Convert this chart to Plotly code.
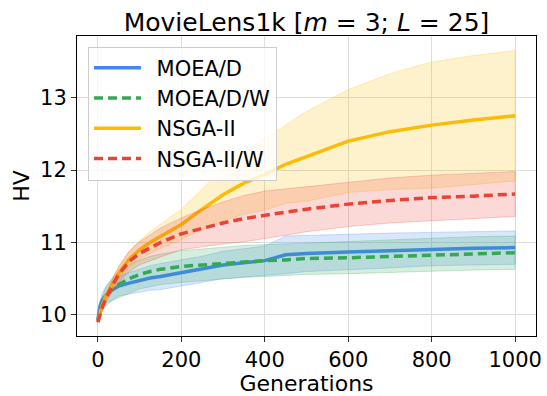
import plotly.graph_objects as go

# Generation checkpoints at which the hypervolume statistics were recorded
generations = [0, 5, 10, 20, 30, 40, 50, 75, 100, 125, 150, 200, 250, 300,
               350, 400, 450, 500, 600, 700, 800, 900, 1000]

# Mean hypervolume per algorithm
moead_mean = [9.93, 10.12, 10.20, 10.28, 10.33, 10.37, 10.40, 10.44, 10.48, 10.51,
              10.53, 10.58, 10.63, 10.69, 10.72, 10.75, 10.83, 10.85, 10.87, 10.89,
              10.91, 10.92, 10.93]
moeadw_mean = [9.92, 10.05, 10.15, 10.26, 10.33, 10.38, 10.42, 10.50, 10.56, 10.60,
               10.63, 10.67, 10.69, 10.72, 10.74, 10.75, 10.76, 10.78, 10.79, 10.81,
               10.83, 10.85, 10.86]
nsga_mean = [9.91, 10.02, 10.12, 10.27, 10.38, 10.48, 10.58, 10.77, 10.90, 11.00,
             11.08, 11.25, 11.46, 11.66, 11.82, 11.94, 12.08, 12.19, 12.40, 12.53,
             12.62, 12.69, 12.75]
nsgaw_mean = [9.90, 10.00, 10.10, 10.24, 10.36, 10.46, 10.56, 10.74, 10.85, 10.93,
              11.00, 11.12, 11.20, 11.27, 11.33, 11.38, 11.42, 11.46, 11.53, 11.58,
              11.62, 11.64, 11.67]

# Standard deviation per algorithm (shaded band = mean +/- std)
moead_std = [0.00, 0.08, 0.10, 0.12, 0.13, 0.14, 0.14, 0.15, 0.16, 0.17, 0.18, 0.18,
             0.18, 0.19, 0.19, 0.20, 0.26, 0.25, 0.24, 0.24, 0.23, 0.23, 0.23]
moeadw_std = [0.00, 0.06, 0.10, 0.13, 0.15, 0.17, 0.18, 0.20, 0.20, 0.21, 0.21, 0.22,
              0.22, 0.22, 0.22, 0.22, 0.22, 0.22, 0.22, 0.22, 0.23, 0.23, 0.23]
nsga_std = [0.00, 0.02, 0.04, 0.06, 0.07, 0.08, 0.09, 0.11, 0.13, 0.15, 0.17, 0.21,
            0.28, 0.36, 0.43, 0.49, 0.54, 0.62, 0.71, 0.80, 0.87, 0.89, 0.90]
nsgaw_std = [0.00, 0.02, 0.04, 0.06, 0.08, 0.10, 0.11, 0.14, 0.16, 0.18, 0.20, 0.22,
             0.26, 0.29, 0.32, 0.33, 0.32, 0.31, 0.31, 0.31, 0.31, 0.31, 0.31]

names = ["MOEA/D", "MOEA/D/W", "NSGA-II", "NSGA-II/W"]
means = [moead_mean, moeadw_mean, nsga_mean, nsgaw_mean]
stds = [moead_std, moeadw_std, nsga_std, nsgaw_std]
colors = ["#4285F4", "#34A853", "#FBBC05", "#EA4335"]
dashes = ["solid", "9px,5px", "solid", "9px,5px"]

FONT = "DejaVu Sans"


def rgba(hex_color, alpha):
    h = hex_color.lstrip("#")
    r, g, b = int(h[0:2], 16), int(h[2:4], 16), int(h[4:6], 16)
    return f"rgba({r},{g},{b},{alpha})"


fig = go.Figure()
for name, m, s, c, d in zip(names, means, stds, colors, dashes):
    upper = [a + b for a, b in zip(m, s)]
    lower = [a - b for a, b in zip(m, s)]
    fig.add_trace(go.Scatter(
        x=generations + generations[::-1],
        y=upper + lower[::-1],
        fill="toself",
        fillcolor=rgba(c, 0.2),
        line=dict(color=rgba(c, 0.25), width=1),
        hoverinfo="skip",
        showlegend=False,
    ))
    fig.add_trace(go.Scatter(
        x=generations, y=m, mode="lines",
        name="\u2002" + name,  # en space keeps a gap after the legend line sample
        line=dict(color=c, width=3.5, dash=d),
    ))

axis_common = dict(
    showline=True, linecolor="black", linewidth=1, mirror=True,
    ticks="outside", ticklen=5, tickcolor="#333", tickwidth=1,
    showgrid=True, gridcolor="#dddddd", gridwidth=1,
    zeroline=False,
    tickfont=dict(family=FONT, size=21, color="black"),
    title_font=dict(family=FONT, size=22, color="black"),
)

fig.update_layout(
    width=547, height=396,
    margin=dict(l=77, r=5, t=36, b=57),
    paper_bgcolor="white", plot_bgcolor="white",
    font=dict(family=FONT, color="black"),
    title=dict(
        text="MovieLens1k [<i>m</i> = 3; <i>L</i> = 25]",
        font=dict(family=FONT, size=25, color="black"),
        x=0.5, xref="paper", xanchor="center",
        y=1, yref="paper", yanchor="bottom",
        pad=dict(b=5),
    ),
    xaxis=dict(range=[-50, 1050], tickvals=[0, 200, 400, 600, 800, 1000],
               title=dict(text="Generations", standoff=3), **axis_common),
    yaxis=dict(range=[9.71, 13.85], tickvals=[10, 11, 12, 13],
               title=dict(text="HV", standoff=4), **axis_common),
    legend=dict(
        x=0.024, y=0.965, xanchor="left", yanchor="top",
        bgcolor="rgba(255,255,255,0.8)", bordercolor="#cccccc", borderwidth=1,
        font=dict(family=FONT, size=21, color="black"),
        itemwidth=47,
    ),
    showlegend=True,
)

fig.write_html("out.html")
